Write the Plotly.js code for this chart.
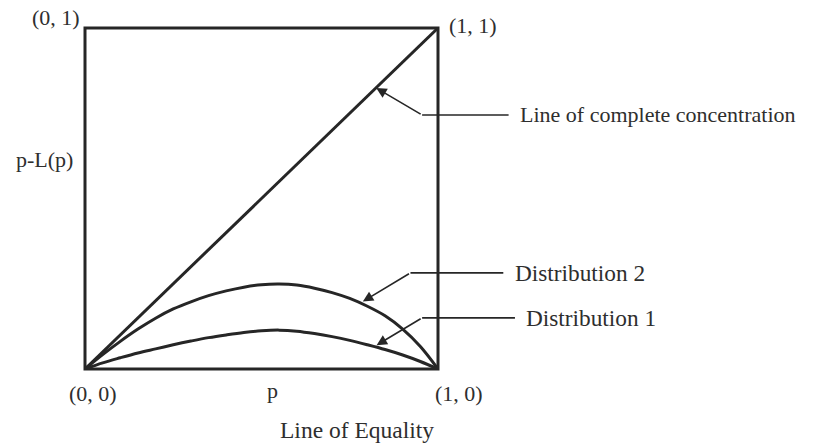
<!DOCTYPE html>
<html>
<head>
<meta charset="utf-8">
<script src="https://cdn.plot.ly/plotly-3.0.1.min.js"></script>
<style>html,body{margin:0;padding:0;background:#fff;}#chart{width:830px;height:447px;}</style>
</head>
<body>
<div id="chart"></div>
<script>
// Data
const diagonalP = [0, 1];
const diagonalY = [0, 1];
const dist2P = [0, 0.05, 0.10, 0.15, 0.20, 0.25, 0.30, 0.35, 0.40, 0.45, 0.50, 0.55, 0.60, 0.65, 0.70, 0.75, 0.80, 0.85, 0.90, 0.95, 1];
const dist2Y = [0, 0.042, 0.081, 0.117, 0.149, 0.176, 0.197, 0.215, 0.229, 0.240, 0.247, 0.249, 0.246, 0.237, 0.224, 0.207, 0.184, 0.156, 0.117, 0.066, 0];
const dist1P = [0, 0.05, 0.10, 0.15, 0.20, 0.25, 0.30, 0.35, 0.40, 0.45, 0.50, 0.55, 0.60, 0.65, 0.70, 0.75, 0.80, 0.85, 0.90, 0.95, 1];
const dist1Y = [0, 0.018, 0.033, 0.047, 0.059, 0.071, 0.082, 0.092, 0.100, 0.107, 0.112, 0.114, 0.111, 0.104, 0.095, 0.084, 0.071, 0.057, 0.041, 0.022, 0];
const cornerLabels = ["(0, 0)", "(1, 0)", "(0, 1)", "(1, 1)"];
const xLabel = "p";
const yLabel = "p-L(p)";
const calloutLabels = ["Line of complete concentration", "Distribution 2", "Distribution 1", "Line of Equality"];

const ink = "#262626";
const txt = "#2e2e2e";
const family = "Liberation Serif, Times New Roman, serif";
function fnt(size) { return {family: family, size: size, color: txt}; }

const traces = [
  {x: diagonalP, y: diagonalY, mode: "lines", line: {color: ink, width: 3}, hoverinfo: "skip", cliponaxis: false},
  {x: dist2P, y: dist2Y, mode: "lines", line: {color: ink, width: 3, shape: "spline", smoothing: 1}, hoverinfo: "skip", cliponaxis: false},
  {x: dist1P, y: dist1Y, mode: "lines", line: {color: ink, width: 3, shape: "spline", smoothing: 1}, hoverinfo: "skip", cliponaxis: false}
];

function arrow(x, y, ax, ay) {
  return {x: x, y: y, ax: ax, ay: ay, xref: "x", yref: "y", axref: "x", ayref: "y",
    text: "", showarrow: true, arrowhead: 2, arrowsize: 1.3, arrowwidth: 1.6, arrowcolor: ink, standoff: 0, startstandoff: 0};
}
function label(text, x, y, xanchor, size) {
  return {text: text, x: x, y: y, xref: "paper", yref: "paper", xanchor: xanchor || "center", yanchor: "middle",
    showarrow: false, font: fnt(size || 22)};
}

const annotations = [
  label(cornerLabels[0], 0.023, -0.072),
  label(cornerLabels[1], 1.06, -0.072),
  label(cornerLabels[2], -0.082, 1.032),
  label(cornerLabels[3], 1.1, 1.006),
  label(xLabel, 0.53, -0.062),
  label(yLabel, -0.116, 0.613),
  label(calloutLabels[0], 1.228, 0.745, "left"),
  label(calloutLabels[1], 1.212, 0.282, "left", 23.3),
  label(calloutLabels[2], 1.245, 0.150, "left", 23.3),
  label(calloutLabels[3], 0.77, -0.179, "center", 23.5),
  arrow(0.825, 0.824, 0.955, 0.745),
  arrow(0.787, 0.198, 0.922, 0.282),
  arrow(0.826, 0.070, 0.955, 0.150),
  arrow(0.71, -0.008, 0.71, -0.126)
];

const lineStyle = {color: ink, width: 1.6};
const shapes = [
  {type: "rect", xref: "paper", yref: "paper", x0: 0, y0: 0, x1: 1, y1: 1, line: {color: ink, width: 3}},
  {type: "line", xref: "paper", yref: "paper", x0: 0.955, y0: 0.745, x1: 1.2, y1: 0.745, line: lineStyle},
  {type: "line", xref: "paper", yref: "paper", x0: 0.922, y0: 0.282, x1: 1.185, y1: 0.282, line: lineStyle},
  {type: "line", xref: "paper", yref: "paper", x0: 0.955, y0: 0.150, x1: 1.218, y1: 0.150, line: lineStyle}
];

const layout = {
  width: 830, height: 447,
  margin: {l: 85, r: 392, t: 28, b: 78},
  paper_bgcolor: "#fff", plot_bgcolor: "#fff",
  showlegend: false,
  xaxis: {range: [0, 1], showgrid: false, zeroline: false, showticklabels: false, ticks: "", showline: false, fixedrange: true},
  yaxis: {range: [0, 1], showgrid: false, zeroline: false, showticklabels: false, ticks: "", showline: false, fixedrange: true},
  annotations: annotations,
  shapes: shapes
};

Plotly.newPlot("chart", traces, layout, {displayModeBar: false, staticPlot: true});
</script>
</body>
</html>
